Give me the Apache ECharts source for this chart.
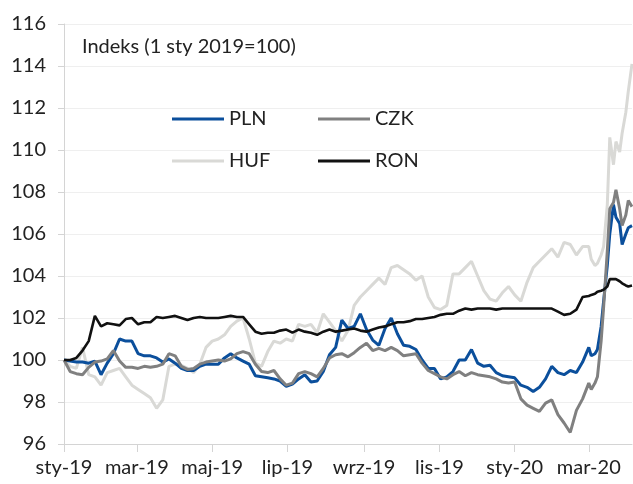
<!DOCTYPE html>
<html>
<head>
<meta charset="utf-8">
<script src="https://cdn.jsdelivr.net/npm/echarts@6/dist/echarts.min.js"></script>
<style>
html,body{margin:0;padding:0;background:#fff;}
#chart{width:633px;height:484px;}
</style>
</head>
<body>
<div id="chart"></div>
<script>
const dates = [
'2019-01-01','2019-01-06','2019-01-11','2019-01-16','2019-01-21','2019-01-26','2019-01-31',
'2019-02-05','2019-02-10','2019-02-15','2019-02-20','2019-02-25',
'2019-03-02','2019-03-07','2019-03-12','2019-03-17','2019-03-22','2019-03-27',
'2019-04-01','2019-04-06','2019-04-11','2019-04-16','2019-04-21','2019-04-26',
'2019-05-01','2019-05-06','2019-05-11','2019-05-16','2019-05-21','2019-05-26','2019-05-31',
'2019-06-05','2019-06-10','2019-06-15','2019-06-20','2019-06-25','2019-06-30',
'2019-07-05','2019-07-10','2019-07-15','2019-07-20','2019-07-25','2019-07-30',
'2019-08-04','2019-08-09','2019-08-14','2019-08-19','2019-08-24','2019-08-29',
'2019-09-03','2019-09-08','2019-09-13','2019-09-18','2019-09-23','2019-09-28',
'2019-10-03','2019-10-08','2019-10-13','2019-10-18','2019-10-23','2019-10-28',
'2019-11-02','2019-11-07','2019-11-12','2019-11-17','2019-11-22','2019-11-27',
'2019-12-02','2019-12-07','2019-12-12','2019-12-17','2019-12-22','2019-12-27',
'2020-01-01','2020-01-06','2020-01-11','2020-01-16','2020-01-21','2020-01-26','2020-01-31',
'2020-02-05','2020-02-10','2020-02-15','2020-02-20','2020-02-25',
'2020-03-01','2020-03-03','2020-03-06','2020-03-08','2020-03-11','2020-03-13','2020-03-16','2020-03-18',
'2020-03-21','2020-03-23','2020-03-26','2020-03-28','2020-03-31','2020-04-02','2020-04-05'
];

const pln = [
100.0,99.95,99.9,99.9,99.85,99.95,99.3,
99.85,100.3,101.0,100.9,100.9,
100.3,100.2,100.2,100.1,99.9,100.05,
99.85,99.6,99.5,99.5,99.7,99.8,
99.8,99.8,100.1,100.3,100.1,99.95,99.8,
99.25,99.2,99.15,99.1,99.0,98.75,
98.85,99.1,99.3,98.95,99.0,99.45,
100.25,100.6,101.9,101.5,101.6,102.2,
101.45,100.95,100.7,101.5,102.0,101.25,
100.7,100.65,100.5,100.0,99.6,99.6,
99.1,99.2,99.45,100.0,100.0,100.5,
99.85,99.7,99.75,99.4,99.25,99.2,
99.15,98.8,98.7,98.5,98.7,99.1,99.7,
99.4,99.3,99.5,99.4,99.9,
100.6,100.2,100.3,100.5,101.6,102.8,104.5,106.0,
107.4,106.8,106.5,105.5,106.0,106.3,106.4
];

const czk = [
100.0,99.45,99.35,99.3,99.65,99.9,99.95,
100.05,100.45,99.95,99.65,99.65,
99.6,99.7,99.65,99.7,99.8,100.3,
100.2,99.7,99.55,99.6,99.8,99.9,
99.95,100.0,99.95,100.05,100.3,100.4,100.3,
99.8,99.45,99.4,99.5,99.1,98.8,
98.9,99.35,99.45,99.35,99.2,99.6,
100.1,100.25,100.3,100.15,100.35,100.6,
100.8,100.45,100.55,100.45,100.6,100.45,
100.2,100.25,100.3,99.85,99.5,99.35,
99.2,99.1,99.3,99.45,99.25,99.4,
99.3,99.25,99.2,99.1,98.95,98.9,
98.95,98.15,97.85,97.7,97.55,97.95,98.1,
97.4,97.0,96.55,97.6,98.15,
98.9,98.6,98.9,99.2,100.9,102.5,105.2,107.2,
107.5,108.1,107.2,106.4,106.9,107.6,107.3
];

const huf = [
100.0,99.7,99.6,100.6,99.3,99.2,98.8,
99.4,99.5,99.6,99.2,98.8,
98.6,98.4,98.2,97.7,98.1,99.7,
99.8,99.75,99.6,99.4,99.8,100.6,
100.9,101.0,101.2,101.6,101.85,102.0,101.0,
99.85,99.7,100.4,100.9,100.8,101.0,
100.9,101.7,101.6,101.7,101.3,102.2,
101.8,101.4,100.9,101.4,102.6,103.0,
103.3,103.6,103.9,103.6,104.4,104.5,
104.3,104.1,103.8,104.0,103.0,102.5,
102.4,102.6,104.1,104.1,104.4,104.7,
104.0,103.3,102.9,102.8,103.2,103.5,
103.1,102.8,103.7,104.4,104.7,105.0,105.3,
104.9,105.6,105.5,105.0,105.4,
105.4,104.8,104.5,104.6,105.0,105.4,107.4,110.6,
109.3,110.4,109.9,110.8,111.8,112.8,114.1
];

const ron = [
100.0,100.0,100.1,100.45,100.9,102.1,101.6,
101.75,101.7,101.65,101.95,102.0,
101.7,101.8,101.8,102.05,102.0,102.05,
102.1,102.0,101.9,102.0,102.05,102.0,
102.0,102.0,102.05,102.1,102.05,102.05,101.7,
101.35,101.25,101.3,101.3,101.4,101.45,
101.3,101.45,101.35,101.3,101.2,101.35,
101.45,101.35,101.4,101.45,101.5,101.4,
101.35,101.45,101.55,101.6,101.7,101.8,
101.8,101.85,101.95,101.95,102.0,102.05,
102.15,102.2,102.2,102.35,102.45,102.4,
102.45,102.45,102.45,102.4,102.45,102.45,
102.45,102.45,102.45,102.45,102.45,102.45,102.45,
102.3,102.15,102.2,102.4,103.0,
103.05,103.1,103.15,103.25,103.3,103.35,103.5,103.85,
103.85,103.85,103.75,103.65,103.55,103.5,103.55
];

const tickDates = ['2019-01-01','2019-03-01','2019-05-01','2019-07-01','2019-09-01','2019-11-01','2020-01-01','2020-03-01'];
const tickLabels = ['sty-19','mar-19','maj-19','lip-19','wrz-19','lis-19','sty-20','mar-20'];
const yTicks = {min: 96, max: 116, interval: 2};

function ts(s){ const p = s.split('-'); return Date.UTC(+p[0], +p[1]-1, +p[2]); }
const tickTs = tickDates.map(ts);
function pairs(arr){ return dates.map((d,i)=>[ts(d), arr[i]]); }

const FONT = 'Lato';
const chart = echarts.init(document.getElementById('chart'), null, {renderer:'canvas'});
const lineBase = {type:'line', showSymbol:false, symbol:'none', animation:false, smooth:false};
const legendBase = {orient:'vertical', top:109, padding:0, icon:'rect', itemWidth:52, itemHeight:3, itemGap:22,
  textStyle:{fontFamily:FONT, fontSize:20, color:'#222', lineHeight:20}};
chart.setOption({
  animation:false,
  backgroundColor:'#ffffff',
  textStyle:{fontFamily:FONT},
  title:{text:'Indeks (1 sty 2019=100)', left:82, top:37, padding:0,
    textStyle:{fontFamily:FONT, fontSize:20, fontWeight:'normal', color:'#222'}},
  legend:[
    Object.assign({}, legendBase, {data:['PLN','HUF'], left:172}),
    Object.assign({}, legendBase, {data:['CZK','RON'], left:318})
  ],
  grid:{left:64, right:1, top:24, bottom:40, containLabel:false},
  xAxis:{
    type:'value', min:ts(dates[0]), max:ts(dates[dates.length-1]), scale:true,
    axisLine:{show:true, onZero:false, lineStyle:{color:'#d4d4d4', width:1}},
    axisTick:{show:true, length:8, lineStyle:{color:'#d4d4d4'}, customValues:tickTs},
    axisLabel:{customValues:tickTs, fontFamily:FONT, fontSize:20, color:'#222', margin:14,
      formatter:function(v){ const i = tickTs.indexOf(v); return i>=0 ? tickLabels[i] : ''; }},
    splitLine:{show:false}
  },
  yAxis:{
    type:'value', min:yTicks.min, max:yTicks.max, interval:yTicks.interval,
    axisLine:{show:true, lineStyle:{color:'#d4d4d4', width:1}},
    axisTick:{show:true, length:6, lineStyle:{color:'#d4d4d4'}},
    axisLabel:{fontFamily:FONT, fontSize:20, color:'#222', margin:18},
    splitLine:{show:true, lineStyle:{color:'#efefef', width:1}}
  },
  series:[
    Object.assign({}, lineBase, {name:'HUF', data:pairs(huf), z:2, itemStyle:{color:'#d9d9d6'}, lineStyle:{color:'#d9d9d6', width:3}}),
    Object.assign({}, lineBase, {name:'PLN', data:pairs(pln), z:3, itemStyle:{color:'#0b4f9c'}, lineStyle:{color:'#0b4f9c', width:3}}),
    Object.assign({}, lineBase, {name:'CZK', data:pairs(czk), z:4, itemStyle:{color:'#808080'}, lineStyle:{color:'#808080', width:3}}),
    Object.assign({}, lineBase, {name:'RON', data:pairs(ron), z:5, itemStyle:{color:'#111111'}, lineStyle:{color:'#111111', width:2.6}})
  ]
});
</script>
</body>
</html>
